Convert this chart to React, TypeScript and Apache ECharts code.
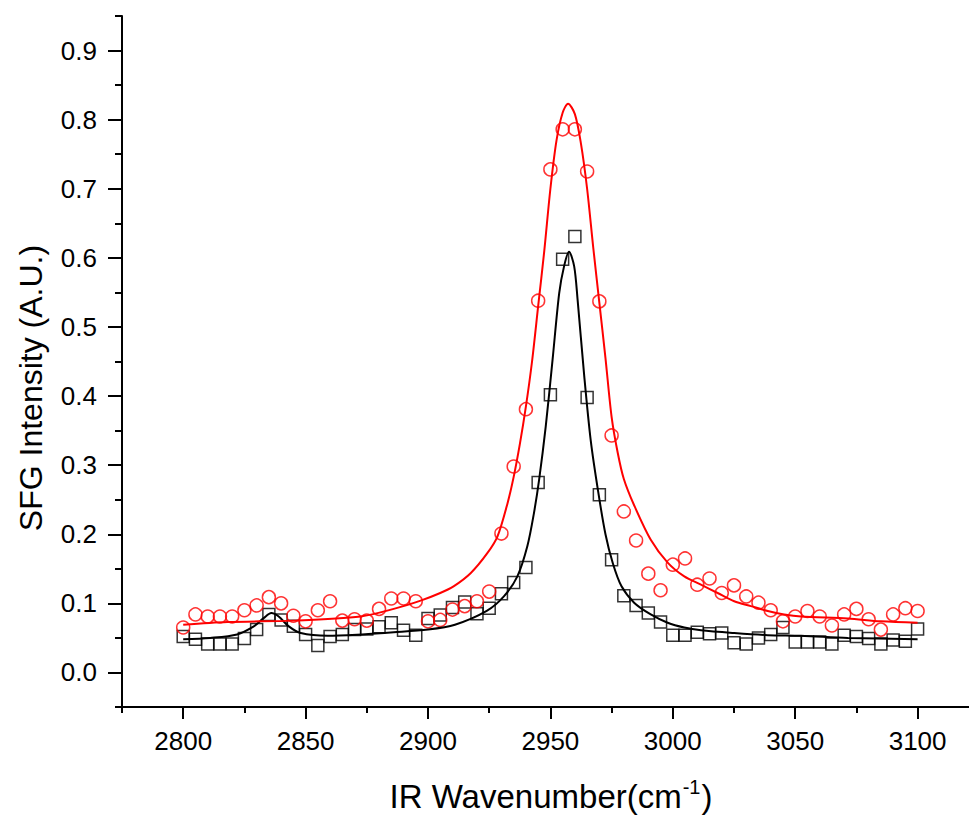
import React, { useEffect, useRef } from 'react';
import * as echarts from 'echarts';

const WAVENUMBERS = [
  2800, 2805, 2810, 2815, 2820, 2825, 2830, 2835, 2840, 2845,
  2850, 2855, 2860, 2865, 2870, 2875, 2880, 2885, 2890, 2895,
  2900, 2905, 2910, 2915, 2920, 2925, 2930, 2935, 2940, 2945,
  2950, 2955, 2960, 2965, 2970, 2975, 2980, 2985, 2990, 2995,
  3000, 3005, 3010, 3015, 3020, 3025, 3030, 3035, 3040, 3045,
  3050, 3055, 3060, 3065, 3070, 3075, 3080, 3085, 3090, 3095, 3100,
];

const SQUARES = [
  0.052, 0.048, 0.041, 0.041, 0.041, 0.049, 0.062, 0.084, 0.076, 0.067,
  0.055, 0.039, 0.052, 0.055, 0.062, 0.063, 0.066, 0.072, 0.061, 0.054,
  0.078, 0.083, 0.094, 0.102, 0.085, 0.093, 0.114, 0.13, 0.152, 0.275,
  0.402, 0.598, 0.631, 0.398, 0.257, 0.163, 0.111, 0.097, 0.086, 0.073,
  0.054, 0.054, 0.058, 0.056, 0.057, 0.043, 0.041, 0.05, 0.055, 0.065,
  0.044, 0.044, 0.044, 0.041, 0.054, 0.052, 0.049, 0.041, 0.047, 0.045, 0.063,
];

const CIRCLES = [
  0.065, 0.084, 0.081, 0.081, 0.081, 0.09, 0.097, 0.109, 0.1, 0.082,
  0.074, 0.09, 0.103, 0.075, 0.077, 0.075, 0.092, 0.107, 0.107, 0.103,
  0.074, 0.076, 0.091, 0.096, 0.103, 0.117, 0.201, 0.298, 0.381, 0.538,
  0.728, 0.786, 0.786, 0.725, 0.537, 0.343, 0.233, 0.191, 0.143, 0.119,
  0.156, 0.165, 0.127, 0.136, 0.115, 0.126, 0.11, 0.101, 0.09, 0.074,
  0.081, 0.089, 0.081, 0.068, 0.084, 0.092, 0.077, 0.062, 0.084, 0.093, 0.089,
];

const FIT_BLACK_X = [
  2800, 2811, 2822, 2829, 2833, 2836, 2839, 2843, 2848, 2859, 2873, 2886, 2900,
  2911, 2924, 2931, 2936.5, 2940.6, 2943.3, 2945.4, 2948.1, 2950.9, 2953.6,
  2955.6, 2957.6, 2959.7, 2961.1, 2963.8, 2966.5, 2969.5, 2972.5, 2975.5,
  2979, 2984.2, 2991, 2997.9, 3004.7, 3011.5, 3025.1, 3038.8,
  3052.4, 3071.5, 3100,
];
const FIT_BLACK_Y = [
  0.048, 0.05, 0.055, 0.067, 0.079, 0.086, 0.081, 0.067, 0.057, 0.053, 0.055, 0.058, 0.062,
  0.069, 0.089, 0.11, 0.139, 0.183, 0.231, 0.279, 0.356, 0.453, 0.549,
  0.588, 0.609, 0.588, 0.54, 0.43, 0.335, 0.262, 0.2, 0.158,
  0.125, 0.101, 0.084, 0.072, 0.065, 0.061, 0.057, 0.054,
  0.053, 0.05, 0.048,
];

const FIT_RED_X = [
  2800, 2818, 2845, 2872.5, 2886, 2897, 2905, 2910.6, 2917.5, 2924.3, 2928.4,
  2932.5, 2935, 2937.5, 2940, 2942.5, 2945, 2947.5, 2950, 2952.5, 2955,
  2957.2, 2960, 2962.5, 2965, 2967.5, 2970, 2972.5, 2975, 2977.5, 2980, 2984.2,
  2991, 2997.9, 3004.7, 3011.5, 3018.3, 3025.1, 3031.9, 3038.8, 3045.5, 3052.4,
  3071.5, 3085, 3100,
];
const FIT_RED_Y = [
  0.069, 0.073, 0.075, 0.081, 0.092, 0.104, 0.115, 0.125, 0.144, 0.173, 0.197,
  0.245, 0.283, 0.33, 0.385, 0.45, 0.53, 0.61, 0.7, 0.77, 0.81,
  0.823, 0.808, 0.765, 0.7, 0.615, 0.535, 0.455, 0.37, 0.318, 0.28, 0.242,
  0.192, 0.159, 0.139, 0.127, 0.115, 0.103, 0.096, 0.089, 0.084, 0.081,
  0.078, 0.074, 0.072,
];

const X_MAJOR = [2800, 2850, 2900, 2950, 3000, 3050, 3100];
const X_MINOR = [2775, 2825, 2875, 2925, 2975, 3025, 3075];
const Y_MAJOR = [0, 0.1, 0.2, 0.3, 0.4, 0.5, 0.6, 0.7, 0.8, 0.9];
const Y_MINOR = [-0.05, 0.05, 0.15, 0.25, 0.35, 0.45, 0.55, 0.65, 0.75, 0.85, 0.95];

const X_TITLE = 'IR Wavenumber(cm';
const Y_TITLE = 'SFG Intensity (A.U.)';

export default function App() {
  const ref = useRef<HTMLDivElement>(null);

  useEffect(() => {
    if (!ref.current) return;
    const chart = echarts.init(ref.current, null, { renderer: 'svg' });
    const font = "'Liberation Sans', Arial, Helvetica, sans-serif";
    const X_MIN = 2775;
    const X_MAX = 3121;
    const Y_MIN = -0.05;
    const Y_MAX = 0.95;

    const pairs = (xs: number[], ys: number[]) => xs.map((x, i) => [x, ys[i]]);

    chart.setOption({
      animation: false,
      backgroundColor: '#ffffff',
      grid: {
        left: 122,
        right: 0,
        top: 16,
        bottom: 109,
        containLabel: false,
        outerBoundsMode: 'none',
      },
      xAxis: [
        {
          type: 'value',
          position: 'bottom',
          min: X_MIN,
          max: X_MAX,
          axisLine: { show: true, onZero: false, lineStyle: { color: '#000', width: 2 } },
          axisTick: { show: true, inside: false, length: 12, customValues: X_MAJOR, lineStyle: { color: '#000', width: 2 } },
          axisLabel: {
            show: true,
            customValues: X_MAJOR,
            margin: 21,
            color: '#000',
            fontSize: 26,
            fontFamily: font,
            formatter: (v: number) => String(Math.round(v)),
          },
          splitLine: { show: false },
        },
        {
          type: 'value',
          position: 'bottom',
          min: X_MIN,
          max: X_MAX,
          axisLine: { show: false, onZero: false },
          axisTick: { show: true, inside: false, length: 6, customValues: X_MINOR, lineStyle: { color: '#000', width: 2 } },
          axisLabel: { show: false },
          splitLine: { show: false },
        },
      ],
      yAxis: [
        {
          type: 'value',
          position: 'left',
          min: Y_MIN,
          max: Y_MAX,
          axisLine: { show: true, onZero: false, lineStyle: { color: '#000', width: 2 } },
          axisTick: { show: true, inside: false, length: 14, customValues: Y_MAJOR, lineStyle: { color: '#000', width: 2 } },
          axisLabel: {
            show: true,
            customValues: Y_MAJOR,
            margin: 25,
            color: '#000',
            fontSize: 26,
            fontFamily: font,
            formatter: (v: number) => v.toFixed(1),
          },
          splitLine: { show: false },
        },
        {
          type: 'value',
          position: 'left',
          min: Y_MIN,
          max: Y_MAX,
          axisLine: { show: false, onZero: false },
          axisTick: { show: true, inside: false, length: 7, customValues: Y_MINOR, lineStyle: { color: '#000', width: 2 } },
          axisLabel: { show: false },
          splitLine: { show: false },
        },
      ],
      graphic: [
        {
          type: 'text',
          x: 551,
          y: 796,
          style: {
            text: X_TITLE + '{sup|-1})',
            font: `33px ${font}`,
            fill: '#000',
            align: 'center',
            verticalAlign: 'middle',
            rich: {
              sup: { fontSize: 20, fontFamily: font, fill: '#000', verticalAlign: 'top', padding: [0, 1, 18, 1] },
            },
          },
        },
        {
          type: 'text',
          x: 31,
          y: 388,
          rotation: Math.PI / 2,
          style: {
            text: Y_TITLE,
            font: `32px ${font}`,
            fill: '#000',
            align: 'center',
            verticalAlign: 'middle',
          },
        },
      ],
      series: [
        {
          type: 'scatter',
          name: 'squares',
          data: pairs(WAVENUMBERS, SQUARES),
          symbol: 'rect',
          symbolSize: 12,
          itemStyle: { color: 'rgba(0,0,0,0)', borderColor: '#000', borderWidth: 1.5 },
          z: 2,
        },
        {
          type: 'scatter',
          name: 'circles',
          data: pairs(WAVENUMBERS, CIRCLES),
          symbol: 'circle',
          symbolSize: 13,
          itemStyle: { color: 'rgba(0,0,0,0)', borderColor: '#ff0000', borderWidth: 1.5 },
          z: 2,
        },
        {
          type: 'line',
          name: 'fitBlack',
          data: pairs(FIT_BLACK_X, FIT_BLACK_Y),
          showSymbol: false,
          smooth: 0.3,
          lineStyle: { color: '#000', width: 2 },
          z: 3,
        },
        {
          type: 'line',
          name: 'fitRed',
          data: pairs(FIT_RED_X, FIT_RED_Y),
          showSymbol: false,
          smooth: 0.3,
          lineStyle: { color: '#ff0000', width: 2 },
          z: 3,
        },
      ],
    });

    return () => chart.dispose();
  }, []);

  return (
    <div
      ref={ref}
      style={{ position: 'fixed', left: 0, top: 0, width: 969, height: 816, background: '#fff' }}
    />
  );
}
